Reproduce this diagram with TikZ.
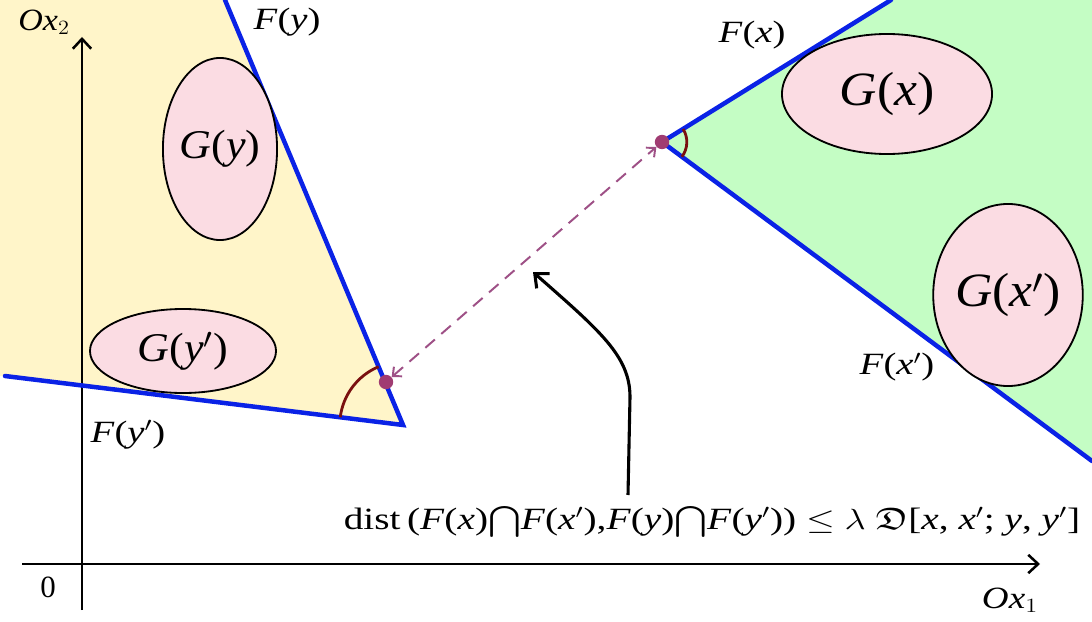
\documentclass[tikz,border=0pt]{standalone}
\usepackage{amssymb}
\usepackage{fontspec}
\setmainfont{Liberation Serif}
\usetikzlibrary{arrows.meta,shapes.geometric,positioning,calc}
\definecolor{yfill}{HTML}{FFF5C9}
\definecolor{xfill}{HTML}{C4FDC4}
\definecolor{setpink}{HTML}{FBDCE3}
\definecolor{coneblue}{HTML}{0A22E6}
\definecolor{dotpurple}{HTML}{A03C72}
\definecolor{linkpurple}{HTML}{9E5086}
\definecolor{anglered}{HTML}{7A1010}
\begin{document}
\begin{tikzpicture}[x=0.025cm, y=0.025cm,
    set/.style={ellipse, draw, line width=1.3pt, fill=setpink, inner sep=0pt},
    edge/.style={draw=coneblue, line width=3.2pt, line cap=round},
    lbl/.style={font=\fontsize{22}{26}\selectfont},
    axis/.style={-{Straight Barb[length=7pt, width=13pt]}, line width=1.8pt},
    angle/.style={draw=anglered, line width=2pt},
    pt/.style={circle, fill=dotpurple, inner sep=0pt, minimum size=0.36cm},
    link/.style={{Straight Barb[length=5pt, width=9pt]}-{Straight Barb[length=5pt, width=9pt]}, draw=linkpurple, line width=1.4pt, dash pattern=on 9pt off 6pt},
    arr/.style={-{Straight Barb[length=8pt, width=14pt]}, line width=2.2pt}
]
\useasboundingbox (0,0) rectangle (1092,621);

\coordinate (ytop) at (225,621);
\coordinate (ytip) at (403,196);
\coordinate (yleft) at (5,245);
\coordinate (xtop) at (891,621);
\coordinate (xtip) at (662,479);
\coordinate (xright) at (1092,160);

\fill[yfill] (0,621) -- (ytop) -- (ytip) -- (yleft) -- (0,245) -- cycle;
\fill[xfill] (xtip) -- (xtop) -- (1092,621) -- (xright) -- cycle;

\draw[axis] (22,57) -- (1040,57);
\draw[axis] (82,11) -- (82,584);

\draw[edge] (ytop) -- (ytip) -- (yleft);
\draw[edge] (xtop) -- (xtip) -- (xright);

\node[set, minimum width=2.65cm, minimum height=4.55cm, font=\fontsize{29}{32}\selectfont] (gy) at (220,472) {\scalebox{1.08}[1]{\textit{G}(\textit{y})}};
\node[set, minimum width=4.65cm, minimum height=2.1cm, font=\fontsize{29}{32}\selectfont] (gyp) at (183,270) {\scalebox{1.08}[1]{\textit{G}(\textit{y}$'$)}};
\node[set, minimum width=5.25cm, minimum height=3.0cm, font=\fontsize{34}{38}\selectfont] (gx) at (887,527) {\scalebox{1.08}[1]{\textit{G}(\textit{x})}};
\node[set, minimum width=3.65cm, minimum height=4.55cm, font=\fontsize{34}{38}\selectfont] (gxp) at (1008,326) {\scalebox{1.08}[1]{\textit{G}(\textit{x}$'$)}};

\draw[angle] ($(ytip)+(112.7:1.58cm)$) arc[start angle=112.7, end angle=173, radius=1.58cm];
\draw[angle] ($(xtip)+(-36.6:0.62cm)$) arc[start angle=-36.6, end angle=31.7, radius=0.62cm];

\node[pt] (py) at (386,239) {};
\node[pt] (px) at (xtip) {};
\draw[link] (py) -- (px);

\node[lbl] (fy) at (287,599) {\scalebox{1.25}[1]{\textit{F}(\textit{y})}};
\node[lbl] (fyp) at (128,186) {\scalebox{1.25}[1]{\textit{F}(\textit{y}$'$)}};
\node[lbl] (fx) at (752,586) {\scalebox{1.25}[1]{\textit{F}(\textit{x})}};
\node[lbl] (fxp) at (897,254) {\scalebox{1.25}[1]{\textit{F}(\textit{x}$'$)}};
\node[lbl] (ox2) at (44,599) {\scalebox{1.1}[1]{\textit{Ox}$_2$}};
\node[lbl] (ox1) at (1010,21) {\scalebox{1.2}[1]{\textit{Ox}$_1$}};
\node[lbl] (zero) at (48,34) {0};

\node[lbl] (dist) at (712,99) {\scalebox{1.27}[1]{dist\,(\textit{F}(\textit{x})$\bigcap$\textit{F}(\textit{x}$'$),\textit{F}(\textit{y})$\bigcap$\textit{F}(\textit{y}$'$)) $\leq$ $\lambda$ $\mathfrak{D}$[\textit{x}, \textit{x}$'$; \textit{y}, \textit{y}$'$]}};

\coordinate (tail) at (628,126);
\coordinate (head) at (533,349);
\draw[arr] (tail) -- (630,224) .. controls (630,265) and (600,290) .. (head);
\end{tikzpicture}
\end{document}
